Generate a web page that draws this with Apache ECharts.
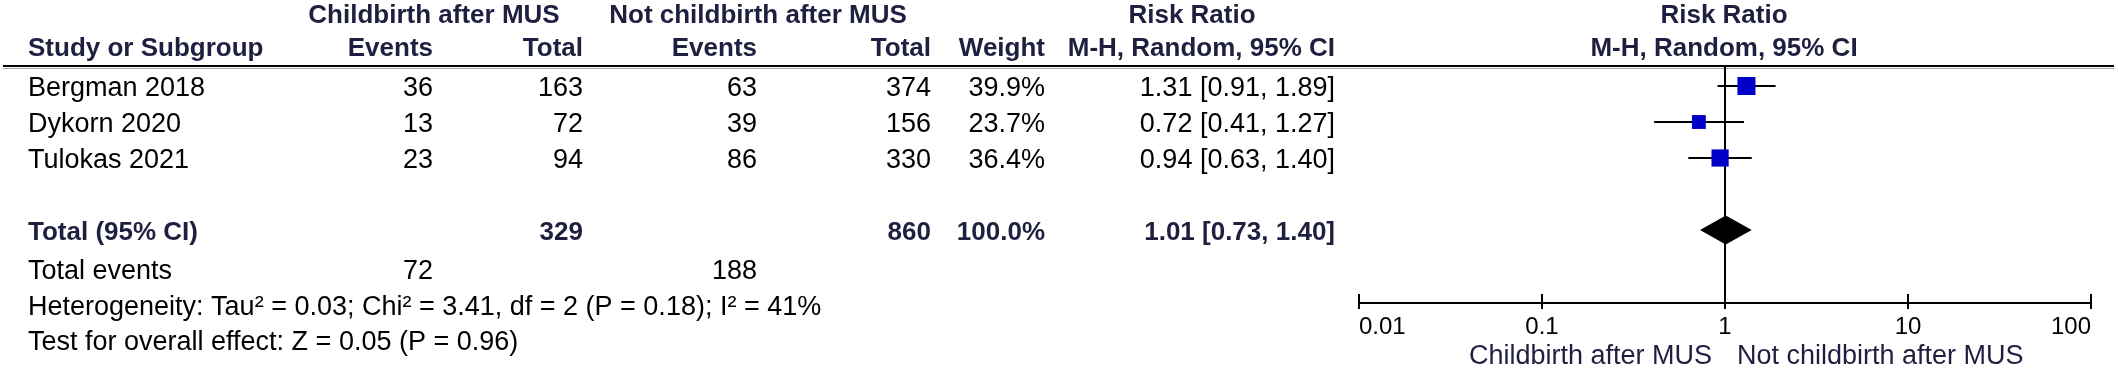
<!DOCTYPE html>
<html><head><meta charset="utf-8">
<script src="https://cdn.jsdelivr.net/npm/echarts@6/dist/echarts.min.js"></script>
<style>html,body{margin:0;padding:0;background:#fff}#c{width:2118px;height:370px}</style>
</head><body><div id="c"></div>
<script>
// ---- data ----
const studies = ['Bergman 2018', 'Dykorn 2020', 'Tulokas 2021'];
const expEvents = [36, 13, 23];
const expTotal = [163, 72, 94];
const ctlEvents = [63, 39, 86];
const ctlTotal = [374, 156, 330];
const weights = [39.9, 23.7, 36.4];
const rr = [1.31, 0.72, 0.94];
const ciLow = [0.91, 0.41, 0.63];
const ciHigh = [1.89, 1.27, 1.40];
const totalLabel = 'Total (95% CI)';
const totals = [329, 860];
const totalWeight = '100.0%';
const pooled = [1.01, 0.73, 1.40];
const totalEvents = [72, 188];
const nullEffect = 1;
const heterogeneityText = 'Heterogeneity: Tau\u00B2 = 0.03; Chi\u00B2 = 3.41, df = 2 (P = 0.18); I\u00B2 = 41%';
const overallText = 'Test for overall effect: Z = 0.05 (P = 0.96)';
const tickLabels = ['0.01', '0.1', '1', '10', '100'];
const groupLabels = ['Childbirth after MUS', 'Not childbirth after MUS'];

// ---- layout ----
const FONT = "'Liberation Sans', Arial, sans-serif";
const HEAD = '#1f1f40';
const ROW0 = 86, ROWH = 36, TOP = 67, AXIS_Y = 303;
const TOTAL_ROW = 4;
const Y_OFF = (ROW0 - TOP) / ROWH;
const Y_MAX = (AXIS_Y - TOP) / ROWH;
const rowY = i => ROW0 + ROWH * i;
const fmtCI = (a, b, c) => a.toFixed(2) + ' [' + b.toFixed(2) + ', ' + c.toFixed(2) + ']';
const COL = {study: 28, ev1: 433, tot1: 583, ev2: 757, tot2: 931, w: 1045, ci: 1335, plot: 1724};

const g = [];
function txt(text, x, y, align, opt) {
  opt = opt || {};
  g.push({type: 'text', silent: true, style: {
    text: String(text), x: x, y: y, align: align, verticalAlign: 'middle',
    fill: opt.color || '#000', fontSize: opt.size || 27, fontFamily: FONT,
    fontWeight: opt.bold ? 'bold' : 'normal'
  }});
}
const B = {bold: true, color: HEAD, size: 26};
txt(groupLabels[0], 434, 16, 'center', B);
txt(groupLabels[1], 758, 16, 'center', B);
txt('Risk Ratio', 1192, 16, 'center', B);
txt('Risk Ratio', COL.plot, 16, 'center', B);
txt('Study or Subgroup', COL.study, 49, 'left', B);
txt('Events', COL.ev1, 49, 'right', B);
txt('Total', COL.tot1, 49, 'right', B);
txt('Events', COL.ev2, 49, 'right', B);
txt('Total', COL.tot2, 49, 'right', B);
txt('Weight', COL.w, 49, 'right', B);
txt('M-H, Random, 95% CI', COL.ci, 49, 'right', B);
txt('M-H, Random, 95% CI', COL.plot, 49, 'center', B);
g.push({type: 'rect', silent: true, shape: {x: 3, y: 65, width: 2111, height: 2}, style: {fill: '#000'}});
g.push({type: 'rect', silent: true, shape: {x: 3, y: 68, width: 2111, height: 1}, style: {fill: '#aaa'}});
studies.forEach((s, i) => {
  const y = rowY(i) + 3;
  txt(s, COL.study, y, 'left');
  txt(expEvents[i], COL.ev1, y, 'right');
  txt(expTotal[i], COL.tot1, y, 'right');
  txt(ctlEvents[i], COL.ev2, y, 'right');
  txt(ctlTotal[i], COL.tot2, y, 'right');
  txt(weights[i].toFixed(1) + '%', COL.w, y, 'right');
  txt(fmtCI(rr[i], ciLow[i], ciHigh[i]), COL.ci, y, 'right');
});
const ty = rowY(TOTAL_ROW) + 3;
txt(totalLabel, COL.study, ty, 'left', B);
txt(totals[0], COL.tot1, ty, 'right', B);
txt(totals[1], COL.tot2, ty, 'right', B);
txt(totalWeight, COL.w, ty, 'right', B);
txt(fmtCI(pooled[0], pooled[1], pooled[2]), COL.ci, ty, 'right', B);
txt('Total events', COL.study, 272, 'left');
txt(totalEvents[0], COL.ev1, 272, 'right');
txt(totalEvents[1], COL.ev2, 272, 'right');
txt(heterogeneityText, COL.study, 308, 'left');
txt(overallText, COL.study, 343, 'left');
txt(groupLabels[0], 1712, 357, 'right', {color: HEAD, size: 27});
txt(groupLabels[1], 1737, 357, 'left', {color: HEAD, size: 27});

const chart = echarts.init(document.getElementById('c'), null, {renderer: 'canvas'});
const xBase = {
  type: 'log', logBase: 10, min: 0.01, max: 100, position: 'bottom',
  splitLine: {show: false}, minorTick: {show: false}
};
chart.setOption({
  animation: false,
  backgroundColor: '#fff',
  grid: {left: 1359, right: 27, top: TOP, bottom: 370 - AXIS_Y},
  xAxis: [
    Object.assign({}, xBase, {
      axisLine: {show: true, onZero: false, lineStyle: {color: '#000', width: 2}},
      axisTick: {show: true, inside: false, length: 6, lineStyle: {color: '#000', width: 2}},
      axisLabel: {
        show: true, color: '#000', fontSize: 24, fontFamily: FONT, margin: 12,
        alignMinLabel: 'left', alignMaxLabel: 'right',
        formatter: v => tickLabels[Math.round(Math.log10(v)) + 2]
      }
    }),
    Object.assign({}, xBase, {
      axisLine: {show: false, onZero: false},
      axisTick: {show: true, inside: true, length: 9, lineStyle: {color: '#000', width: 2}},
      axisLabel: {show: false}
    })
  ],
  yAxis: {type: 'value', inverse: true, show: false, min: 0, max: Y_MAX},
  series: [
    {
      type: 'custom', xAxisIndex: 0, clip: false,
      data: studies.map((s, i) => [ciLow[i], ciHigh[i], i + Y_OFF]),
      encode: {x: [0, 1], y: 2},
      renderItem: (p, api) => {
        const a = api.coord([api.value(0), api.value(2)]);
        const b = api.coord([api.value(1), api.value(2)]);
        const children = [{type: 'line', shape: {x1: a[0], y1: a[1], x2: b[0], y2: b[1]},
          style: {stroke: '#000', lineWidth: 2}}];
        if (p.dataIndex === 0) {
          const t = api.coord([nullEffect, 0]);
          const u = api.coord([nullEffect, Y_MAX]);
          children.push({type: 'rect',
            shape: {x: Math.round(t[0]) - 1, y: t[1], width: 2, height: u[1] - t[1] + 6},
            style: {fill: '#000'}});
        }
        return {type: 'group', children: children};
      },
      z: 2
    },
    {
      type: 'scatter', xAxisIndex: 0,
      data: rr.map((v, i) => [v, i + Y_OFF, weights[i]]),
      symbol: 'rect',
      symbolSize: val => 2.85 * Math.sqrt(val[2]),
      itemStyle: {color: '#0000C8', opacity: 1},
      z: 4
    },
    {
      type: 'custom', xAxisIndex: 0,
      data: [[pooled[1], pooled[0], pooled[2], TOTAL_ROW + Y_OFF]],
      encode: {x: [0, 1, 2], y: 3},
      renderItem: (p, api) => {
        const y = api.value(3);
        const l = api.coord([api.value(0), y]);
        const c = api.coord([api.value(1), y]);
        const r = api.coord([api.value(2), y]);
        const h = api.coord([api.value(1), y + 0.4])[1] - c[1];
        return {type: 'polygon', shape: {points: [[l[0], l[1]], [c[0], c[1] - h], [r[0], r[1]], [c[0], c[1] + h]]},
          style: {fill: '#000'}};
      },
      z: 5
    }
  ],
  graphic: g
});
</script>
</body></html>
